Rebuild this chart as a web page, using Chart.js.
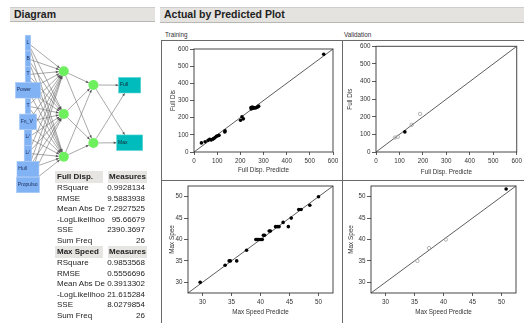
<!DOCTYPE html>
<html>
<head>
<meta charset="utf-8">
<script src="https://cdn.jsdelivr.net/npm/chart.js@4/dist/chart.umd.min.js"></script>
<style>
body { margin: 0; width: 524px; height: 323px; background: #fff; position: relative; overflow: hidden; font-family: 'Liberation Sans', Arial, sans-serif; }
canvas { position: absolute; }
.hdr { position: absolute; background: #e5e3e0; border-top: 1px solid #cfcdc9; border-bottom: 1px solid #b9b7b3; font-weight: bold; font-size: 10.5px; color: #222; line-height: 13px; padding-left: 4px; box-sizing: border-box; }
.lbl { position: absolute; font-size: 6.3px; color: #333; }
.ln { position: absolute; background: #6a6a6a; }
#tbl div { position: absolute; font-size: 8px; color: #222; white-space: nowrap; }
#tbl .th { background: #e6e5e2; font-weight: bold; }
</style>
</head>
<body>
<div class="hdr" style="left:10px;top:7px;width:145px;height:15px;">Diagram</div>
<div class="hdr" style="left:160px;top:7px;width:364px;height:16px;">Actual by Predicted Plot</div>
<div class="lbl" style="left:165px;top:31px;">Training</div>
<div class="lbl" style="left:344px;top:31px;">Validation</div>

<canvas id="diag" width="160" height="200" style="left:0;top:0;"></canvas>
<canvas id="tt" width="180" height="139" style="left:162px;top:41px;"></canvas>
<canvas id="vt" width="182" height="139" style="left:342px;top:41px;"></canvas>
<canvas id="tb" width="180" height="143" style="left:162px;top:180px;"></canvas>
<canvas id="vb" width="182" height="143" style="left:342px;top:180px;"></canvas>

<div class="ln" style="left:161px;top:40px;width:363px;height:1px;"></div>
<div class="ln" style="left:161px;top:40px;width:1px;height:283px;"></div>
<div class="ln" style="left:342px;top:40px;width:1px;height:283px;"></div>
<div class="ln" style="left:161px;top:180px;width:363px;height:1px;"></div>

<div id="tbl"></div>

<script>
Chart.defaults.font.family = "'Liberation Sans', Arial, sans-serif";

// ---- data ----
const fdTicks = [0, 100, 200, 300, 400, 500, 600];
const fdRange = [0, 600];
const msTicks = [30, 35, 40, 45, 50];
const msRange = [27.5, 52.5];

// Full Disp. training
const fdTrainPred = [32, 48, 61, 68, 74, 80, 85, 91, 97, 103, 108, 133, 134, 201, 207, 213, 246, 247, 252, 256, 261, 265, 270, 275, 279, 560];
const fdTrainAct  = [53, 60, 68, 74, 70, 74, 78, 84, 92, 95, 97, 117, 123, 185, 205, 193, 259, 251, 262, 255, 258, 257, 259, 262, 267, 569];
// Full Disp. validation
const fdValPred = [81, 93, 152, 188];
const fdValAct  = [82, 86, 154, 216];
const fdValSelPred = [123];
const fdValSelAct  = [114];

// Max Speed training
const msTrainPred = [29.6, 33.9, 34.6, 34.8, 35.9, 37.6, 39.2, 39.4, 39.6, 39.9, 40.1, 40.3, 40.5, 40.7, 41.5, 41.7, 42.6, 42.9, 43.2, 43.9, 44.8, 45.3, 46.6, 47.0, 48.5, 50.0];
const msTrainAct  = [30, 34, 35, 35, 35, 37.5, 40, 40, 40, 40, 40, 40, 41, 41, 42, 42, 43, 43, 43, 44, 43, 45, 47, 47, 48, 50];
// Max Speed validation
const msValPred = [35.5, 37.5, 40.4];
const msValAct  = [35, 38, 40];
const msValSelPred = [50.8];
const msValSelAct  = [51.8];

// network
const inputNames = ['L', 'B', 'T', 'Power', 'T', 'Fn_V', 'L/', 'L/', 'Hull', 'Propulso'];
const hiddenSizes = [3, 2];
const outputNames = ['Full', 'Max'];

// fit table
const measureNames = ['RSquare', 'RMSE', 'Mean Abs De', '-LogLikelihoo', 'SSE', 'Sum Freq'];
const fdMeasures = ['0.9928134', '9.5883938', '7.2927525', '95.66679', '2390.3697', '26'];
const msMeasures = ['0.9853568', '0.5556696', '0.3913302', '21.615284', '8.0279854', '26'];

// ---- table ----
function buildTable() {
    const tbl = document.getElementById('tbl');
    let y = 171;
    const blocks = [['Full Disp.', fdMeasures], ['Max Speed', msMeasures]];
    blocks.forEach(([name, vals], bi) => {
        tbl.insertAdjacentHTML('beforeend',
            `<div class="th" style="left:55px;top:${y}px;width:46px;height:12px;line-height:12px;padding-left:2px;">${name}</div>
             <div class="th" style="left:108px;top:${y}px;width:38px;height:12px;line-height:12px;text-align:right;padding-right:1px;">Measures</div>`);
        y += 12;
        measureNames.forEach((m, i) => {
            tbl.insertAdjacentHTML('beforeend',
                `<div style="left:57px;top:${y}px;line-height:10.5px;">${m}</div>
                 <div style="left:100px;top:${y}px;width:45px;text-align:right;line-height:10.5px;">${vals[i]}</div>`);
            y += 10.5;
        });
    });
}
buildTable();

// ---- plots ----
const framePlugin = {
    id: 'frame',
    afterDraw(chart) {
        const { ctx, chartArea: a } = chart;
        ctx.save();
        ctx.strokeStyle = '#333';
        ctx.lineWidth = 0.9;
        ctx.strokeRect(a.left, a.top, a.right - a.left, a.bottom - a.top);
        ctx.restore();
    }
};

function pts(xs, ys) {
    return xs.map((v, i) => ({ x: v, y: ys[i] }));
}

function axis(range, ticks, title, size, titlePad, horizontal) {
    return {
        type: 'linear',
        min: range[0],
        max: range[1],
        afterBuildTicks: s => { s.ticks = ticks.map(v => ({ value: v })); },
        afterFit: s => { if (horizontal) s.height = size; else s.width = size; },
        ticks: { font: { size: 6.3 }, color: '#333', padding: horizontal ? 2 : 1.5, maxRotation: 0, autoSkip: false },
        grid: { drawOnChartArea: false, tickLength: horizontal ? 3 : 4, color: '#333', lineWidth: 0.8 },
        border: { display: false },
        title: { display: true, text: title, font: { size: 6.3 }, color: '#333', padding: titlePad }
    };
}

function makePlot(id, o) {
    new Chart(document.getElementById(id), {
        type: 'scatter',
        data: {
            datasets: [
                { data: pts(o.selX, o.selY), pointRadius: 1.8, backgroundColor: '#000', borderWidth: 0 },
                { data: pts(o.grayX, o.grayY), pointRadius: 1.7, backgroundColor: 'rgba(0,0,0,0)', borderColor: '#a0a0a0', borderWidth: 0.8 },
                { data: [{ x: o.range[0], y: o.range[0] }, { x: o.range[1], y: o.range[1] }], showLine: true, pointRadius: 0, borderColor: '#333', borderWidth: 0.8 }
            ]
        },
        options: {
            responsive: false,
            animation: false,
            layout: { padding: { top: o.box.t, right: o.box.r, left: 0, bottom: 0 } },
            plugins: { legend: { display: false }, tooltip: { enabled: false } },
            scales: {
                x: axis(o.range, o.ticks, o.xTitle, o.box.b, { top: 0, bottom: o.xPad }, true),
                y: axis(o.range, o.ticks, o.yTitle, o.box.l, { top: o.yPad, bottom: 0 }, false)
            }
        },
        plugins: [framePlugin]
    });
}

makePlot('tt', { range: fdRange, ticks: fdTicks, xTitle: 'Full Disp. Predicte', yTitle: 'Full Dis',
    selX: fdTrainPred, selY: fdTrainAct, grayX: [], grayY: [],
    box: { l: 32, r: 9, t: 8, b: 28 }, xPad: 6, yPad: 7 });
makePlot('vt', { range: fdRange, ticks: fdTicks, xTitle: 'Full Disp. Predicte', yTitle: 'Full Dis',
    selX: fdValSelPred, selY: fdValSelAct, grayX: fdValPred, grayY: fdValAct,
    box: { l: 34, r: 5, t: 5, b: 28 }, xPad: 4, yPad: 4.5 });
makePlot('tb', { range: msRange, ticks: msTicks, xTitle: 'Max Speed Predicte', yTitle: 'Max Spee',
    selX: msTrainPred, selY: msTrainAct, grayX: [], grayY: [],
    box: { l: 26, r: 9, t: 6, b: 30 }, xPad: 7, yPad: 6 });
makePlot('vb', { range: msRange, ticks: msTicks, xTitle: 'Max Speed Predicte', yTitle: 'Max Spee',
    selX: msValSelPred, selY: msValSelAct, grayX: msValPred, grayY: msValAct,
    box: { l: 29, r: 8, t: 6, b: 30 }, xPad: 7, yPad: 5.5 });

// ---- diagram ----
// layout of the network picture
const layerX = [24.5, 62.7, 94.3, 133];
const layerStep = [16.6, 45, 61, 60.5];
const netMidY = 114.7;
const inputBoxW = [5.5, 5.5, 5.5, 25, 5.5, 17, 7.5, 7.5, 22, 23];
const outputBoxW = [22, 26];

function layerYs(n, step) {
    const ys = [];
    for (let i = 0; i < n; i++) ys.push(netMidY + (i - (n - 1) / 2) * step);
    return ys;
}

const inYs = layerYs(inputNames.length, layerStep[0]);
const h1Ys = layerYs(hiddenSizes[0], layerStep[1]);
const h2Ys = layerYs(hiddenSizes[1], layerStep[2]);
const outYs = layerYs(outputNames.length, layerStep[3]);

const inNodes = inputNames.map((n, i) => ({ x: layerX[0], y: inYs[i], w: inputBoxW[i], h: 15.5, label: n }));
const h1Nodes = h1Ys.map(y => ({ x: layerX[1], y: y, r: 5 }));
const h2Nodes = h2Ys.map(y => ({ x: layerX[2], y: y, r: 5 }));
const outNodes = outputNames.map((n, i) => ({ x: layerX[3], y: outYs[i], w: outputBoxW[i], h: 15.5, label: n }));

function edgePoint(node, px, py, sx, sy) {
    const dx = sx - px, dy = sy - py;
    const len = Math.hypot(dx, dy);
    if (node.r) return [px + dx / len * node.r, py + dy / len * node.r];
    const t = Math.min((node.w / 2) / Math.abs(dx || 1e-6), (node.h / 2) / Math.abs(dy || 1e-6));
    return [px + dx * t, py + dy * t];
}

const netPlugin = {
    id: 'net',
    beforeDatasetsDraw(chart) {
        const { ctx, scales: { x, y } } = chart;
        const P = n => [x.getPixelForValue(n.x), y.getPixelForValue(n.y)];
        const links = [];
        inNodes.forEach(a => h1Nodes.forEach(b => links.push([a, b])));
        h1Nodes.forEach(a => h2Nodes.forEach(b => links.push([a, b])));
        h2Nodes.forEach(a => outNodes.forEach(b => links.push([a, b])));
        ctx.save();
        ctx.strokeStyle = '#6e6e6e';
        ctx.fillStyle = '#555';
        ctx.lineWidth = 0.6;
        links.forEach(([a, b]) => {
            const [ax, ay] = P(a), [bx, by] = P(b);
            const s = edgePoint(a, ax, ay, bx, by);
            const e = edgePoint(b, bx, by, ax, ay);
            ctx.beginPath();
            ctx.moveTo(s[0], s[1]);
            ctx.lineTo(e[0], e[1]);
            ctx.stroke();
            const ang = Math.atan2(e[1] - s[1], e[0] - s[0]);
            ctx.beginPath();
            ctx.moveTo(e[0], e[1]);
            ctx.lineTo(e[0] - 3 * Math.cos(ang) + 1.2 * Math.sin(ang), e[1] - 3 * Math.sin(ang) - 1.2 * Math.cos(ang));
            ctx.lineTo(e[0] - 3 * Math.cos(ang) - 1.2 * Math.sin(ang), e[1] - 3 * Math.sin(ang) + 1.2 * Math.cos(ang));
            ctx.closePath();
            ctx.fill();
        });
        const drawBox = (n, fill, stroke, textColor) => {
            const [cx, cy] = P(n);
            ctx.fillStyle = fill;
            ctx.fillRect(cx - n.w / 2, cy - n.h / 2, n.w, n.h);
            ctx.strokeStyle = stroke;
            ctx.lineWidth = 0.6;
            ctx.strokeRect(cx - n.w / 2, cy - n.h / 2, n.w, n.h);
            ctx.fillStyle = textColor;
            ctx.font = "5px 'Liberation Sans', Arial, sans-serif";
            ctx.textBaseline = 'middle';
            ctx.fillText(n.label, cx - n.w / 2 + 1.3, cy - 0.5);
        };
        inNodes.forEach(n => drawBox(n, '#80b2f4', '#a9c9f6', '#1c2b5a'));
        outNodes.forEach(n => drawBox(n, '#00bcbc', '#5cd3d3', '#123'));
        ctx.restore();
    }
};

new Chart(document.getElementById('diag'), {
    type: 'scatter',
    data: {
        datasets: [{
            data: h1Nodes.concat(h2Nodes).map(n => ({ x: n.x, y: n.y })),
            pointRadius: 5,
            backgroundColor: '#6ef05e',
            borderWidth: 0
        }]
    },
    options: {
        responsive: false,
        animation: false,
        layout: { padding: 0 },
        plugins: { legend: { display: false }, tooltip: { enabled: false } },
        scales: {
            x: { type: 'linear', min: 0, max: 160, display: false },
            y: { type: 'linear', min: 0, max: 200, reverse: true, display: false }
        }
    },
    plugins: [netPlugin]
});
</script>
</body>
</html>
